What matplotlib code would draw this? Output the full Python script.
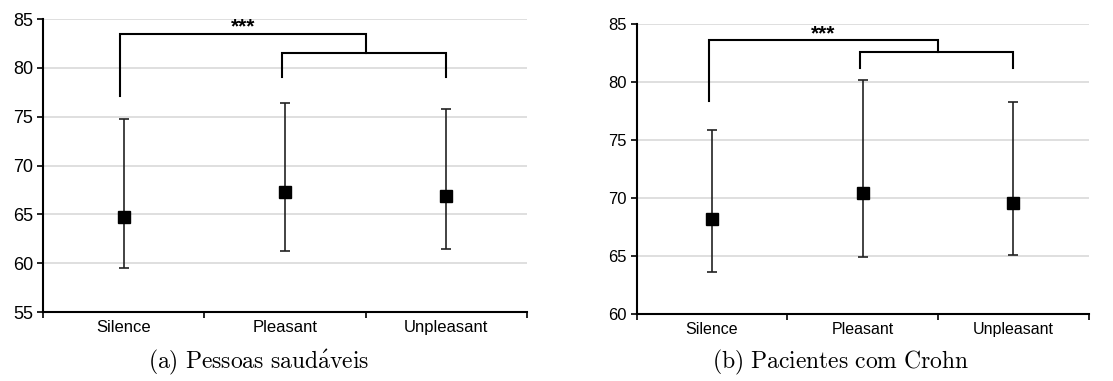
import matplotlib.pyplot as plt

plt.rcParams['font.family'] = ['Liberation Sans', 'DejaVu Sans']
plt.rcParams['mathtext.fontset'] = 'cm'

categories = ['Silence', 'Pleasant', 'Unpleasant']

# (a) healthy people
a_mean = [64.7, 67.3, 66.9]
a_upper = [74.8, 76.4, 75.8]
a_lower = [59.5, 61.2, 61.5]
a_ylim = (55, 85)

# (b) Crohn patients
b_mean = [68.2, 70.4, 69.6]
b_upper = [75.9, 80.2, 78.3]
b_lower = [63.6, 64.9, 65.1]
b_ylim = (60, 85)

# significance brackets: (top bar y, silence leg bottom, lower bar y, lower legs bottom)
a_bracket = (83.5, 77.1, 81.5, 79.1)
b_bracket = (83.6, 78.4, 82.6, 81.2)


def draw_panel(ax, mean, upper, lower, ylim, bracket, fs_x, fs_y):
    x = list(range(len(categories)))
    yerr = [[m - lo for m, lo in zip(mean, lower)],
            [u - m for m, u in zip(mean, upper)]]
    ax.errorbar(x, mean, yerr=yerr, fmt='s', color='black', ecolor='#222222',
                elinewidth=1.2, capsize=3.6, capthick=1.2, markersize=8.5, zorder=3)

    top, leg0, low, leg1 = bracket
    mid = (x[1] + x[2]) / 2
    ax.plot([x[0] - 0.02, x[0] - 0.02, mid, mid], [leg0, top, top, low],
            color='black', lw=1.5, zorder=3, solid_joinstyle='miter')
    ax.plot([x[1] - 0.02, x[1] - 0.02, x[2], x[2]], [leg1, low, low, leg1],
            color='black', lw=1.5, zorder=3, solid_joinstyle='miter')
    ax.text(0.74, top - 0.25, '***', ha='center', va='bottom', fontsize=15,
            fontweight='bold')

    ax.set_xlim(-0.5, 2.5)
    ax.set_ylim(*ylim)
    ax.set_yticks(range(ylim[0], ylim[1] + 1, 5))
    ax.set_xticks([-0.5, 0.5, 1.5, 2.5])
    ax.set_xticklabels([])
    ax.set_xticks(x, minor=True)
    ax.set_xticklabels(categories, minor=True, fontsize=fs_x)
    ax.tick_params(axis='x', which='minor', length=0, pad=6)
    ax.tick_params(axis='x', which='major', length=4, width=1.2, direction='out')
    ax.tick_params(axis='y', length=4, width=1.2, labelsize=fs_y, pad=3)
    ax.grid(axis='y', color='#d9d9d9', lw=1.2, zorder=0)
    ax.set_axisbelow(True)
    for s in ['top', 'right']:
        ax.spines[s].set_visible(False)
    for s in ['left', 'bottom']:
        ax.spines[s].set_linewidth(1.5)
    ax.spines['bottom'].set_zorder(4)


fig = plt.figure(figsize=(11.13, 3.81), dpi=100)
ax1 = fig.add_axes([0.0386, 0.181, 0.435, 0.769])
ax2 = fig.add_axes([0.572, 0.176, 0.406, 0.761])

draw_panel(ax1, a_mean, a_upper, a_lower, a_ylim, a_bracket, 12, 13)
draw_panel(ax2, b_mean, b_upper, b_lower, b_ylim, b_bracket, 11.5, 12)

fig.text(0.232, 0.033, r'$\mathrm{(a)\ Pessoas\ saud\acute{a}veis}$', ha='center',
         va='baseline', fontsize=17)
fig.text(0.755, 0.033, r'$\mathrm{(b)\ Pacientes\ com\ Crohn}$', ha='center',
         va='baseline', fontsize=17)

fig.savefig('out.png', dpi=100)
